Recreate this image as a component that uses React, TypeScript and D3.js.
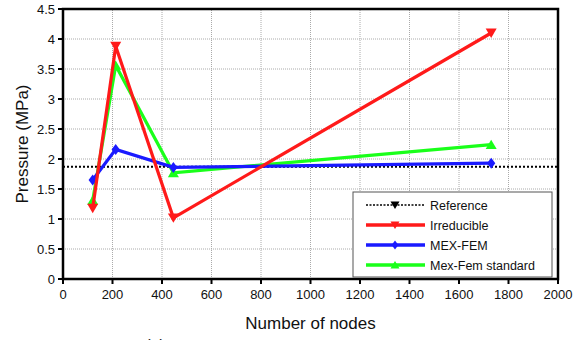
import React from "react";
import * as d3 from "d3";

const nodes = [120, 213, 446, 1730];
const irreducible = [1.18, 3.88, 1.02, 4.1];
const mexFem = [1.65, 2.16, 1.86, 1.93];
const mexFemStandard = [1.31, 3.56, 1.77, 2.24];
const referenceValue = 1.87;
const xTicks = [0, 200, 400, 600, 800, 1000, 1200, 1400, 1600, 1800, 2000];
const yTicks = [0, 0.5, 1, 1.5, 2, 2.5, 3, 3.5, 4, 4.5];

const W = 585;
const H = 340;
const M = { left: 63, right: 27, top: 9, bottom: 61 };

const x = d3.scaleLinear().domain([0, 2000]).range([M.left, W - M.right]);
const y = d3.scaleLinear().domain([0, 4.5]).range([H - M.bottom, M.top]);

type Marker = "down" | "up" | "diamond";

function markerPath(kind: Marker, s: number) {
  if (kind === "down") return `M${-s},${-s * 0.8}L${s},${-s * 0.8}L0,${s * 0.9}Z`;
  if (kind === "up") return `M${-s},${s * 0.8}L${s},${s * 0.8}L0,${-s * 0.9}Z`;
  return `M0,${-s}L${s * 0.75},0L0,${s}L${-s * 0.75},0Z`;
}

const series: { name: string; values: number[]; color: string; marker: Marker }[] = [
  { name: "Irreducible", values: irreducible, color: "#ff1a1a", marker: "down" },
  { name: "MEX-FEM", values: mexFem, color: "#1a1aff", marker: "diamond" },
  { name: "Mex-Fem standard", values: mexFemStandard, color: "#1aff1a", marker: "up" },
];

const drawOrder = [2, 1, 0];

export default function App() {
  const line = d3
    .line<[number, number]>()
    .x((d) => x(d[0]))
    .y((d) => y(d[1]));
  const font = "'Liberation Sans', Arial, sans-serif";
  const legendRows = [
    { name: "Reference", color: "#000", marker: "down" as Marker, dotted: true },
    ...series.map((s) => ({ name: s.name, color: s.color, marker: s.marker, dotted: false })),
  ];
  const lx = 353;
  const ly = 192;
  return (
    <svg
      width={W}
      height={H}
      style={{ position: "absolute", left: 0, top: 0, background: "#fff" }}
      fontFamily={font}
    >
      {/* grid */}
      {xTicks.slice(1, -1).map((t) => (
        <line key={"gx" + t} x1={x(t)} x2={x(t)} y1={y(0)} y2={y(4.5)} stroke="#aaa" strokeWidth={1} strokeDasharray="1,1" />
      ))}
      {yTicks.slice(1, -1).map((t) => (
        <line key={"gy" + t} x1={x(0)} x2={x(2000)} y1={y(t)} y2={y(t)} stroke="#aaa" strokeWidth={1} strokeDasharray="1,1" />
      ))}
      {/* reference level */}
      <line x1={x(0)} x2={x(2000)} y1={y(referenceValue)} y2={y(referenceValue)} stroke="#000" strokeWidth={2} strokeDasharray="2,2" />
      {/* series */}
      {drawOrder.map((i) => {
        const s = series[i];
        const pts = nodes.map((n, k) => [n, s.values[k]] as [number, number]);
        return (
          <g key={s.name}>
            <path d={line(pts) || ""} fill="none" stroke={s.color} strokeWidth={3.2} strokeLinejoin="miter" />
            {pts.map((p, k) => (
              <path key={k} d={markerPath(s.marker, 5.5)} transform={`translate(${x(p[0])},${y(p[1])})`} fill={s.color} />
            ))}
          </g>
        );
      })}
      {/* frame */}
      <rect x={x(0)} y={y(4.5)} width={x(2000) - x(0)} height={y(0) - y(4.5)} fill="none" stroke="#000" strokeWidth={2.5} />
      {/* ticks */}
      {xTicks.map((t) => (
        <g key={"xt" + t}>
          <line x1={x(t)} x2={x(t)} y1={y(0)} y2={y(0) + 5} stroke="#000" strokeWidth={2} />
          <text x={x(t)} y={y(0) + 20} textAnchor="middle" fontSize={13} fill="#111">
            {t}
          </text>
        </g>
      ))}
      {yTicks.map((t) => (
        <g key={"yt" + t}>
          <line x1={x(0) - 5} x2={x(0)} y1={y(t)} y2={y(t)} stroke="#000" strokeWidth={2} />
          <text x={x(0) - 8} y={y(t) + 4.5} textAnchor="end" fontSize={13} fill="#111">
            {t}
          </text>
        </g>
      ))}
      {/* axis titles */}
      <text x={(x(0) + x(2000)) / 2} y={329} textAnchor="middle" fontSize={17} fill="#111">
        Number of nodes
      </text>
      <text transform={`translate(28,${(y(0) + y(4.5)) / 2}) rotate(-90)`} textAnchor="middle" fontSize={17} fill="#111">
        Pressure (MPa)
      </text>
      <text x={155} y={351} textAnchor="middle" fontSize={16} fill="#111">
        (a)
      </text>
      {/* legend */}
      <rect x={lx} y={ly} width={199} height={85} fill="#fff" stroke="#555" strokeWidth={1} />
      {legendRows.map((r, i) => {
        const cy = ly + 13 + i * 20;
        return (
          <g key={r.name}>
            <line
              x1={lx + 13}
              x2={lx + 72}
              y1={cy}
              y2={cy}
              stroke={r.color}
              strokeWidth={r.dotted ? 1.5 : 3.5}
              strokeDasharray={r.dotted ? "2,1.5" : undefined}
            />
            <path d={markerPath(r.marker, 4.5)} transform={`translate(${lx + 42},${cy})`} fill={r.color} />
            <text x={lx + 77} y={cy + 4.5} fontSize={12.5} fill="#111">
              {r.name}
            </text>
          </g>
        );
      })}
    </svg>
  );
}
